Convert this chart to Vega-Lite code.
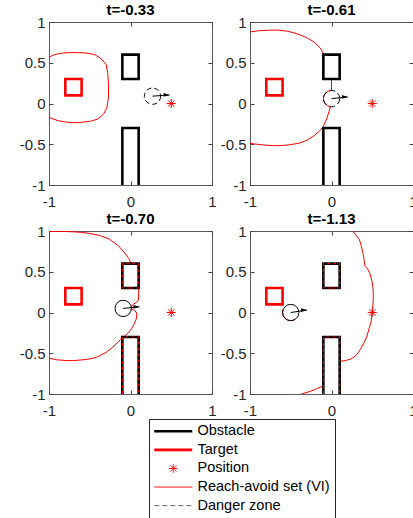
{
  "$schema": "https://vega.github.io/schema/vega-lite/v6.json",
  "background": "white",
  "padding": {"left": 18, "top": 2, "right": 0, "bottom": 0},
  "columns": 2,
  "spacing": {"row": 46, "column": 38},
  "bounds": "flush",
  "datasets": {
    "obs": [
      {"series": "Obstacle", "obj": "a", "i": 0, "x": 0, "y": 0.3},
      {"series": "Obstacle", "obj": "a", "i": 1, "x": 0.1, "y": 0.3},
      {"series": "Obstacle", "obj": "a", "i": 2, "x": 0.1, "y": 0.6},
      {"series": "Obstacle", "obj": "a", "i": 3, "x": -0.1, "y": 0.6},
      {"series": "Obstacle", "obj": "a", "i": 4, "x": -0.1, "y": 0.3},
      {"series": "Obstacle", "obj": "a", "i": 5, "x": 0, "y": 0.3},
      {"series": "Obstacle", "obj": "b", "i": 0, "x": -0.1, "y": -1},
      {"series": "Obstacle", "obj": "b", "i": 1, "x": -0.1, "y": -0.3},
      {"series": "Obstacle", "obj": "b", "i": 2, "x": 0.1, "y": -0.3},
      {"series": "Obstacle", "obj": "b", "i": 3, "x": 0.1, "y": -1}
    ],
    "target": [
      {"i": 0, "x": -0.7, "y": 0.1},
      {"i": 1, "x": -0.6, "y": 0.1},
      {"i": 2, "x": -0.6, "y": 0.3},
      {"i": 3, "x": -0.8, "y": 0.3},
      {"i": 4, "x": -0.8, "y": 0.1},
      {"i": 5, "x": -0.7, "y": 0.1}
    ],
    "pos": [{"x": 0.5, "y": 0}],
    "vehicle": [
      {"panel": 1, "x": 0.27, "y": 0.09, "tx": 0.48, "ty": 0.105},
      {"panel": 2, "x": 0.0, "y": 0.06, "tx": 0.2, "ty": 0.08},
      {"panel": 3, "x": -0.09, "y": 0.05, "tx": 0.11, "ty": 0.07},
      {"panel": 4, "x": -0.5, "y": 0.0, "tx": -0.3, "ty": 0.03}
    ],
    "curves": [
      {"panel": 1, "seg": "a", "i": 0, "x": -1, "y": 0.57},
      {"panel": 1, "seg": "a", "i": 1, "x": -0.93, "y": 0.6},
      {"panel": 1, "seg": "a", "i": 2, "x": -0.83, "y": 0.62},
      {"panel": 1, "seg": "a", "i": 3, "x": -0.7, "y": 0.626},
      {"panel": 1, "seg": "a", "i": 4, "x": -0.54, "y": 0.62},
      {"panel": 1, "seg": "a", "i": 5, "x": -0.44, "y": 0.6},
      {"panel": 1, "seg": "a", "i": 6, "x": -0.36, "y": 0.55},
      {"panel": 1, "seg": "a", "i": 7, "x": -0.3, "y": 0.48},
      {"panel": 1, "seg": "a", "i": 8, "x": -0.28, "y": 0.38},
      {"panel": 1, "seg": "a", "i": 9, "x": -0.27, "y": 0.24},
      {"panel": 1, "seg": "a", "i": 10, "x": -0.27, "y": 0.07},
      {"panel": 1, "seg": "a", "i": 11, "x": -0.29, "y": -0.05},
      {"panel": 1, "seg": "a", "i": 12, "x": -0.33, "y": -0.13},
      {"panel": 1, "seg": "a", "i": 13, "x": -0.4, "y": -0.19},
      {"panel": 1, "seg": "a", "i": 14, "x": -0.5, "y": -0.22},
      {"panel": 1, "seg": "a", "i": 15, "x": -0.66, "y": -0.236},
      {"panel": 1, "seg": "a", "i": 16, "x": -0.78, "y": -0.23},
      {"panel": 1, "seg": "a", "i": 17, "x": -0.89, "y": -0.21},
      {"panel": 1, "seg": "a", "i": 18, "x": -1, "y": -0.17},

      {"panel": 2, "seg": "a", "i": 0, "x": -1, "y": 0.878},
      {"panel": 2, "seg": "a", "i": 1, "x": -0.88, "y": 0.894},
      {"panel": 2, "seg": "a", "i": 2, "x": -0.76, "y": 0.9},
      {"panel": 2, "seg": "a", "i": 3, "x": -0.66, "y": 0.9},
      {"panel": 2, "seg": "a", "i": 4, "x": -0.56, "y": 0.89},
      {"panel": 2, "seg": "a", "i": 5, "x": -0.47, "y": 0.87},
      {"panel": 2, "seg": "a", "i": 6, "x": -0.38, "y": 0.84},
      {"panel": 2, "seg": "a", "i": 7, "x": -0.3, "y": 0.805},
      {"panel": 2, "seg": "a", "i": 8, "x": -0.24, "y": 0.77},
      {"panel": 2, "seg": "a", "i": 9, "x": -0.19, "y": 0.735},
      {"panel": 2, "seg": "a", "i": 10, "x": -0.13, "y": 0.67},
      {"panel": 2, "seg": "a", "i": 11, "x": -0.1, "y": 0.61},
      {"panel": 2, "seg": "a", "i": 12, "x": -0.1, "y": 0.3},
      {"panel": 2, "seg": "a", "i": 13, "x": 0, "y": 0.3},
      {"panel": 2, "seg": "a", "i": 14, "x": 0, "y": 0.16},
      {"panel": 2, "seg": "a", "i": 15, "x": -0.042, "y": 0.151},
      {"panel": 2, "seg": "a", "i": 16, "x": -0.077, "y": 0.124},
      {"panel": 2, "seg": "a", "i": 17, "x": -0.097, "y": 0.086},
      {"panel": 2, "seg": "a", "i": 18, "x": -0.098, "y": 0.043},
      {"panel": 2, "seg": "a", "i": 19, "x": -0.082, "y": 0.003},
      {"panel": 2, "seg": "a", "i": 20, "x": -0.05, "y": -0.027},
      {"panel": 2, "seg": "a", "i": 21, "x": -0.015, "y": -0.045},
      {"panel": 2, "seg": "a", "i": 22, "x": -0.03, "y": -0.1},
      {"panel": 2, "seg": "a", "i": 23, "x": -0.06, "y": -0.19},
      {"panel": 2, "seg": "a", "i": 24, "x": -0.1, "y": -0.28},
      {"panel": 2, "seg": "a", "i": 25, "x": -0.15, "y": -0.34},
      {"panel": 2, "seg": "a", "i": 26, "x": -0.22, "y": -0.4},
      {"panel": 2, "seg": "a", "i": 27, "x": -0.3, "y": -0.45},
      {"panel": 2, "seg": "a", "i": 28, "x": -0.39, "y": -0.485},
      {"panel": 2, "seg": "a", "i": 29, "x": -0.5, "y": -0.505},
      {"panel": 2, "seg": "a", "i": 30, "x": -0.6, "y": -0.515},
      {"panel": 2, "seg": "a", "i": 31, "x": -0.72, "y": -0.517},
      {"panel": 2, "seg": "a", "i": 32, "x": -0.85, "y": -0.507},
      {"panel": 2, "seg": "a", "i": 33, "x": -1, "y": -0.49},

      {"panel": 3, "seg": "a", "i": 0, "x": -1, "y": 0.995},
      {"panel": 3, "seg": "a", "i": 1, "x": -0.85, "y": 0.995},
      {"panel": 3, "seg": "a", "i": 2, "x": -0.7, "y": 0.99},
      {"panel": 3, "seg": "a", "i": 3, "x": -0.6, "y": 0.983},
      {"panel": 3, "seg": "a", "i": 4, "x": -0.5, "y": 0.97},
      {"panel": 3, "seg": "a", "i": 5, "x": -0.38, "y": 0.945},
      {"panel": 3, "seg": "a", "i": 6, "x": -0.26, "y": 0.9},
      {"panel": 3, "seg": "a", "i": 7, "x": -0.15, "y": 0.82},
      {"panel": 3, "seg": "a", "i": 8, "x": -0.07, "y": 0.73},
      {"panel": 3, "seg": "a", "i": 9, "x": -0.02, "y": 0.66},
      {"panel": 3, "seg": "a", "i": 10, "x": 0.01, "y": 0.6},
      {"panel": 3, "seg": "a", "i": 11, "x": 0.1, "y": 0.6},
      {"panel": 3, "seg": "a", "i": 12, "x": 0.1, "y": 0.3},
      {"panel": 3, "seg": "a", "i": 13, "x": 0.1, "y": 0.2},
      {"panel": 3, "seg": "a", "i": 14, "x": 0.095, "y": 0.15},
      {"panel": 3, "seg": "a", "i": 15, "x": 0.07, "y": 0.12},
      {"panel": 3, "seg": "a", "i": 16, "x": 0.03, "y": 0.1},
      {"panel": 3, "seg": "a", "i": 17, "x": 0.012, "y": 0.075},
      {"panel": 3, "seg": "a", "i": 18, "x": 0.012, "y": 0.045},
      {"panel": 3, "seg": "a", "i": 19, "x": 0.04, "y": 0.03},
      {"panel": 3, "seg": "a", "i": 20, "x": 0.07, "y": 0.005},
      {"panel": 3, "seg": "a", "i": 21, "x": 0.078, "y": -0.03},
      {"panel": 3, "seg": "a", "i": 22, "x": 0.07, "y": -0.08},
      {"panel": 3, "seg": "a", "i": 23, "x": 0.05, "y": -0.13},
      {"panel": 3, "seg": "a", "i": 24, "x": 0.025, "y": -0.18},
      {"panel": 3, "seg": "a", "i": 25, "x": -0.01, "y": -0.23},
      {"panel": 3, "seg": "a", "i": 26, "x": -0.06, "y": -0.28},
      {"panel": 3, "seg": "a", "i": 27, "x": -0.1, "y": -0.305},
      {"panel": 3, "seg": "a", "i": 28, "x": -0.14, "y": -0.35},
      {"panel": 3, "seg": "a", "i": 29, "x": -0.2, "y": -0.41},
      {"panel": 3, "seg": "a", "i": 30, "x": -0.3, "y": -0.49},
      {"panel": 3, "seg": "a", "i": 31, "x": -0.42, "y": -0.55},
      {"panel": 3, "seg": "a", "i": 32, "x": -0.5, "y": -0.57},
      {"panel": 3, "seg": "a", "i": 33, "x": -0.58, "y": -0.58},
      {"panel": 3, "seg": "a", "i": 34, "x": -0.7, "y": -0.59},
      {"panel": 3, "seg": "a", "i": 35, "x": -0.78, "y": -0.59},
      {"panel": 3, "seg": "a", "i": 36, "x": -0.91, "y": -0.58},
      {"panel": 3, "seg": "a", "i": 37, "x": -1, "y": -0.56},

      {"panel": 4, "seg": "a", "i": 0, "x": 0.26, "y": 1.0},
      {"panel": 4, "seg": "a", "i": 1, "x": 0.3, "y": 0.95},
      {"panel": 4, "seg": "a", "i": 2, "x": 0.34, "y": 0.9},
      {"panel": 4, "seg": "a", "i": 3, "x": 0.365, "y": 0.82},
      {"panel": 4, "seg": "a", "i": 4, "x": 0.385, "y": 0.735},
      {"panel": 4, "seg": "a", "i": 5, "x": 0.4, "y": 0.65},
      {"panel": 4, "seg": "a", "i": 6, "x": 0.41, "y": 0.57},
      {"panel": 4, "seg": "a", "i": 7, "x": 0.44, "y": 0.54},
      {"panel": 4, "seg": "a", "i": 8, "x": 0.465, "y": 0.49},
      {"panel": 4, "seg": "a", "i": 9, "x": 0.48, "y": 0.45},
      {"panel": 4, "seg": "a", "i": 10, "x": 0.5, "y": 0.37},
      {"panel": 4, "seg": "a", "i": 11, "x": 0.51, "y": 0.29},
      {"panel": 4, "seg": "a", "i": 12, "x": 0.513, "y": 0.2},
      {"panel": 4, "seg": "a", "i": 13, "x": 0.51, "y": 0.12},
      {"panel": 4, "seg": "a", "i": 14, "x": 0.5, "y": 0.0},
      {"panel": 4, "seg": "a", "i": 15, "x": 0.485, "y": -0.12},
      {"panel": 4, "seg": "a", "i": 16, "x": 0.46, "y": -0.2},
      {"panel": 4, "seg": "a", "i": 17, "x": 0.435, "y": -0.29},
      {"panel": 4, "seg": "a", "i": 18, "x": 0.4, "y": -0.37},
      {"panel": 4, "seg": "a", "i": 19, "x": 0.355, "y": -0.45},
      {"panel": 4, "seg": "a", "i": 20, "x": 0.3, "y": -0.53},
      {"panel": 4, "seg": "a", "i": 21, "x": 0.24, "y": -0.57},
      {"panel": 4, "seg": "a", "i": 22, "x": 0.17, "y": -0.59},
      {"panel": 4, "seg": "a", "i": 23, "x": 0.1, "y": -0.6},
      {"panel": 4, "seg": "a", "i": 24, "x": 0.1, "y": -0.3},
      {"panel": 4, "seg": "a", "i": 25, "x": -0.1, "y": -0.3},
      {"panel": 4, "seg": "a", "i": 26, "x": -0.1, "y": -0.9},
      {"panel": 4, "seg": "a", "i": 27, "x": -0.17, "y": -0.93},
      {"panel": 4, "seg": "a", "i": 28, "x": -0.24, "y": -0.96},
      {"panel": 4, "seg": "a", "i": 29, "x": -0.3, "y": -0.98},
      {"panel": 4, "seg": "a", "i": 30, "x": -0.37, "y": -1.0},
      {"panel": 4, "seg": "b", "i": 0, "x": -0.594, "y": 0.034},
      {"panel": 4, "seg": "b", "i": 1, "x": -0.6, "y": 0.0},
      {"panel": 4, "seg": "b", "i": 2, "x": -0.594, "y": -0.034},
      {"panel": 4, "seg": "b", "i": 3, "x": -0.577, "y": -0.064},
      {"panel": 4, "seg": "b", "i": 4, "x": -0.55, "y": -0.087},
      {"panel": 4, "seg": "b", "i": 5, "x": -0.517, "y": -0.098},
      {"panel": 4, "seg": "b", "i": 6, "x": -0.483, "y": -0.098},
      {"panel": 4, "seg": "b", "i": 7, "x": -0.45, "y": -0.087}
    ]
  },
  "concat": [
    {
      "title": "t=-0.33",
      "width": 163, "height": 163,
      "resolve": {"axis": {"x": "independent", "y": "independent"}},
      "layer": [
        {"data": {"name": "curves"}, "transform": [{"filter": "datum.panel == 1"}],
         "mark": {"type": "line", "color": "#ff0000", "strokeWidth": 1, "clip": true},
         "encoding": {
           "x": {"field": "x", "type": "quantitative", "scale": {"domain": [-1, 1], "nice": false}, "axis": null},
           "y": {"field": "y", "type": "quantitative", "scale": {"domain": [-1, 1], "nice": false}, "axis": null},
           "detail": {"field": "seg"},
           "order": {"field": "i", "type": "quantitative"}}},
        {"data": {"name": "obs"},
         "mark": {"type": "line", "strokeWidth": 2.6, "strokeJoin": "miter", "clip": true},
         "encoding": {
           "x": {"field": "x", "type": "quantitative", "scale": {"domain": [-1, 1], "nice": false},
                 "axis": {"orient": "bottom", "values": [-1, 0, 1], "labelExpr": "'' + datum.value", "labelPadding": 13, "title": null}},
           "y": {"field": "y", "type": "quantitative", "scale": {"domain": [-1, 1], "nice": false},
                 "axis": {"orient": "left", "values": [-1, -0.5, 0, 0.5, 1], "labelExpr": "'' + datum.value", "labelPadding": 8, "title": null}},
           "detail": {"field": "obj"},
           "order": {"field": "i", "type": "quantitative"},
           "color": {"field": "series", "type": "nominal",
             "scale": {"domain": ["Obstacle", "Target", "Position", "Reach-avoid set (VI)", "Danger zone"],
                       "range": ["black", "#ff0000", "#ff0000", "#ff0000", "#666666"]},
             "legend": {
               "orient": "none", "legendX": 100, "legendY": 397, "direction": "vertical",
               "title": null, "padding": 5, "strokeColor": "#262626", "fillColor": "white",
               "labelFont": "Liberation Sans", "labelFontSize": 14.5, "labelColor": "black",
               "symbolSize": 361, "symbolOffset": 12, "labelOffset": 17, "rowPadding": 3.6,
               "symbolStrokeWidth": 1,
               "encode": {"symbols": {"update": {
                 "shape": {"signal": "datum.value === 'Position' ? 'M0,-0.45L0,0.45M-0.45,0L0.45,0M-0.32,-0.32L0.32,0.32M-0.32,0.32L0.32,-0.32' : 'M-2,0L2,0'"},
                 "strokeWidth": {"signal": "datum.value === 'Obstacle' || datum.value === 'Target' ? 2.6 : 1"},
                 "strokeDash": {"signal": "datum.value === 'Danger zone' ? [5, 3] : [1, 0]"},
                 "fill": {"value": "transparent"}
               }}}
             }}}},
        {"data": {"name": "target"},
         "mark": {"type": "line", "color": "#ff0000", "strokeWidth": 2.6, "strokeJoin": "miter"},
         "encoding": {
           "x": {"field": "x", "type": "quantitative", "scale": {"domain": [-1, 1], "nice": false},
                 "axis": {"orient": "top", "values": [-1, 0, 1], "labels": false, "title": null}},
           "y": {"field": "y", "type": "quantitative", "scale": {"domain": [-1, 1], "nice": false},
                 "axis": {"orient": "right", "values": [-1, -0.5, 0, 0.5, 1], "labels": false, "title": null}},
           "order": {"field": "i", "type": "quantitative"}}},
        {"data": {"name": "vehicle"}, "transform": [{"filter": "datum.panel == 1"}],
         "mark": {"type": "point", "shape": "circle", "size": 266, "filled": false, "color": "black", "strokeWidth": 1, "strokeDash": [5, 3], "opacity": 1},
         "encoding": {
           "x": {"field": "x", "type": "quantitative", "axis": null},
           "y": {"field": "y", "type": "quantitative", "axis": null}}},
        {"data": {"name": "vehicle"}, "transform": [{"filter": "datum.panel == 1"}],
         "mark": {"type": "rule", "color": "black", "strokeWidth": 1},
         "encoding": {
           "x": {"field": "x", "type": "quantitative", "axis": null},
           "y": {"field": "y", "type": "quantitative", "axis": null},
           "x2": {"field": "tx"}, "y2": {"field": "ty"}}},
        {"data": {"name": "vehicle"}, "transform": [{"filter": "datum.panel == 1"}],
         "mark": {"type": "point", "shape": "M0,0L-1.6,-0.5L-1.6,0.5Z", "size": 56, "filled": true, "color": "black", "opacity": 1},
         "encoding": {
           "x": {"field": "tx", "type": "quantitative", "axis": null},
           "y": {"field": "ty", "type": "quantitative", "axis": null}}},
        {"data": {"name": "pos"},
         "mark": {"type": "point", "shape": "M0,-1L0,1M-1,0L1,0M-0.7,-0.7L0.7,0.7M-0.7,0.7L0.7,-0.7", "size": 81, "filled": false, "color": "#ff0000", "strokeWidth": 1, "opacity": 1},
         "encoding": {
           "x": {"field": "x", "type": "quantitative", "axis": null},
           "y": {"field": "y", "type": "quantitative", "axis": null}}}
      ]
    },
    {
      "title": "t=-0.61",
      "width": 163, "height": 163,
      "resolve": {"axis": {"x": "independent", "y": "independent"}},
      "layer": [
        {"data": {"name": "curves"}, "transform": [{"filter": "datum.panel == 2"}],
         "mark": {"type": "line", "color": "#ff0000", "strokeWidth": 1, "clip": true},
         "encoding": {
           "x": {"field": "x", "type": "quantitative", "scale": {"domain": [-1, 1], "nice": false}, "axis": null},
           "y": {"field": "y", "type": "quantitative", "scale": {"domain": [-1, 1], "nice": false}, "axis": null},
           "detail": {"field": "seg"},
           "order": {"field": "i", "type": "quantitative"}}},
        {"data": {"name": "obs"},
         "mark": {"type": "line", "color": "black", "strokeWidth": 2.6, "strokeJoin": "miter", "clip": true},
         "encoding": {
           "x": {"field": "x", "type": "quantitative", "scale": {"domain": [-1, 1], "nice": false},
                 "axis": {"orient": "bottom", "values": [-1, 0, 1], "labelExpr": "'' + datum.value", "labelPadding": 13, "title": null}},
           "y": {"field": "y", "type": "quantitative", "scale": {"domain": [-1, 1], "nice": false},
                 "axis": {"orient": "left", "values": [-1, -0.5, 0, 0.5, 1], "labelExpr": "'' + datum.value", "labelPadding": 8, "title": null}},
           "detail": {"field": "obj"},
           "order": {"field": "i", "type": "quantitative"}}},
        {"data": {"name": "target"},
         "mark": {"type": "line", "color": "#ff0000", "strokeWidth": 2.6, "strokeJoin": "miter"},
         "encoding": {
           "x": {"field": "x", "type": "quantitative", "scale": {"domain": [-1, 1], "nice": false},
                 "axis": {"orient": "top", "values": [-1, 0, 1], "labels": false, "title": null}},
           "y": {"field": "y", "type": "quantitative", "scale": {"domain": [-1, 1], "nice": false},
                 "axis": {"orient": "right", "values": [-1, -0.5, 0, 0.5, 1], "labels": false, "title": null}},
           "order": {"field": "i", "type": "quantitative"}}},
        {"data": {"name": "vehicle"}, "transform": [{"filter": "datum.panel == 2"}],
         "mark": {"type": "point", "shape": "circle", "size": 266, "filled": false, "color": "black", "strokeWidth": 1, "strokeDash": [6, 3], "opacity": 1},
         "encoding": {
           "x": {"field": "x", "type": "quantitative", "axis": null},
           "y": {"field": "y", "type": "quantitative", "axis": null}}},
        {"data": {"name": "vehicle"}, "transform": [{"filter": "datum.panel == 2"}],
         "mark": {"type": "rule", "color": "black", "strokeWidth": 1},
         "encoding": {
           "x": {"field": "x", "type": "quantitative", "axis": null},
           "y": {"field": "y", "type": "quantitative", "axis": null},
           "x2": {"field": "tx"}, "y2": {"field": "ty"}}},
        {"data": {"name": "vehicle"}, "transform": [{"filter": "datum.panel == 2"}],
         "mark": {"type": "point", "shape": "M0,0L-1.6,-0.5L-1.6,0.5Z", "size": 56, "filled": true, "color": "black", "opacity": 1},
         "encoding": {
           "x": {"field": "tx", "type": "quantitative", "axis": null},
           "y": {"field": "ty", "type": "quantitative", "axis": null}}},
        {"data": {"name": "pos"},
         "mark": {"type": "point", "shape": "M0,-1L0,1M-1,0L1,0M-0.7,-0.7L0.7,0.7M-0.7,0.7L0.7,-0.7", "size": 81, "filled": false, "color": "#ff0000", "strokeWidth": 1, "opacity": 1},
         "encoding": {
           "x": {"field": "x", "type": "quantitative", "axis": null},
           "y": {"field": "y", "type": "quantitative", "axis": null}}}
      ]
    },
    {
      "title": "t=-0.70",
      "width": 163, "height": 163,
      "resolve": {"axis": {"x": "independent", "y": "independent"}},
      "layer": [
        {"data": {"name": "curves"}, "transform": [{"filter": "datum.panel == 3"}],
         "mark": {"type": "line", "color": "#ff0000", "strokeWidth": 1, "clip": true},
         "encoding": {
           "x": {"field": "x", "type": "quantitative", "scale": {"domain": [-1, 1], "nice": false}, "axis": null},
           "y": {"field": "y", "type": "quantitative", "scale": {"domain": [-1, 1], "nice": false}, "axis": null},
           "detail": {"field": "seg"},
           "order": {"field": "i", "type": "quantitative"}}},
        {"data": {"name": "obs"},
         "mark": {"type": "line", "color": "black", "strokeWidth": 2.6, "strokeJoin": "miter", "clip": true},
         "encoding": {
           "x": {"field": "x", "type": "quantitative", "scale": {"domain": [-1, 1], "nice": false},
                 "axis": {"orient": "bottom", "values": [-1, 0, 1], "labelExpr": "'' + datum.value", "labelPadding": 13, "title": null}},
           "y": {"field": "y", "type": "quantitative", "scale": {"domain": [-1, 1], "nice": false},
                 "axis": {"orient": "left", "values": [-1, -0.5, 0, 0.5, 1], "labelExpr": "'' + datum.value", "labelPadding": 8, "title": null}},
           "detail": {"field": "obj"},
           "order": {"field": "i", "type": "quantitative"}}},
        {"data": {"name": "obs"},
         "mark": {"type": "line", "color": "#e00000", "strokeWidth": 1.1, "strokeDash": [3, 3], "clip": true},
         "encoding": {
           "x": {"field": "x", "type": "quantitative", "axis": null},
           "y": {"field": "y", "type": "quantitative", "axis": null},
           "detail": {"field": "obj"},
           "order": {"field": "i", "type": "quantitative"}}},
        {"data": {"name": "target"},
         "mark": {"type": "line", "color": "#ff0000", "strokeWidth": 2.6, "strokeJoin": "miter"},
         "encoding": {
           "x": {"field": "x", "type": "quantitative", "scale": {"domain": [-1, 1], "nice": false},
                 "axis": {"orient": "top", "values": [-1, 0, 1], "labels": false, "title": null}},
           "y": {"field": "y", "type": "quantitative", "scale": {"domain": [-1, 1], "nice": false},
                 "axis": {"orient": "right", "values": [-1, -0.5, 0, 0.5, 1], "labels": false, "title": null}},
           "order": {"field": "i", "type": "quantitative"}}},
        {"data": {"name": "vehicle"}, "transform": [{"filter": "datum.panel == 3"}],
         "mark": {"type": "point", "shape": "circle", "size": 266, "filled": false, "color": "black", "strokeWidth": 1, "opacity": 1},
         "encoding": {
           "x": {"field": "x", "type": "quantitative", "axis": null},
           "y": {"field": "y", "type": "quantitative", "axis": null}}},
        {"data": {"name": "vehicle"}, "transform": [{"filter": "datum.panel == 3"}],
         "mark": {"type": "rule", "color": "black", "strokeWidth": 1},
         "encoding": {
           "x": {"field": "x", "type": "quantitative", "axis": null},
           "y": {"field": "y", "type": "quantitative", "axis": null},
           "x2": {"field": "tx"}, "y2": {"field": "ty"}}},
        {"data": {"name": "vehicle"}, "transform": [{"filter": "datum.panel == 3"}],
         "mark": {"type": "point", "shape": "M0,0L-1.6,-0.5L-1.6,0.5Z", "size": 56, "filled": true, "color": "black", "opacity": 1},
         "encoding": {
           "x": {"field": "tx", "type": "quantitative", "axis": null},
           "y": {"field": "ty", "type": "quantitative", "axis": null}}},
        {"data": {"name": "pos"},
         "mark": {"type": "point", "shape": "M0,-1L0,1M-1,0L1,0M-0.7,-0.7L0.7,0.7M-0.7,0.7L0.7,-0.7", "size": 81, "filled": false, "color": "#ff0000", "strokeWidth": 1, "opacity": 1},
         "encoding": {
           "x": {"field": "x", "type": "quantitative", "axis": null},
           "y": {"field": "y", "type": "quantitative", "axis": null}}}
      ]
    },
    {
      "title": "t=-1.13",
      "width": 163, "height": 163,
      "resolve": {"axis": {"x": "independent", "y": "independent"}},
      "layer": [
        {"data": {"name": "curves"}, "transform": [{"filter": "datum.panel == 4"}],
         "mark": {"type": "line", "color": "#ff0000", "strokeWidth": 1, "clip": true},
         "encoding": {
           "x": {"field": "x", "type": "quantitative", "scale": {"domain": [-1, 1], "nice": false}, "axis": null},
           "y": {"field": "y", "type": "quantitative", "scale": {"domain": [-1, 1], "nice": false}, "axis": null},
           "detail": {"field": "seg"},
           "order": {"field": "i", "type": "quantitative"}}},
        {"data": {"name": "obs"},
         "mark": {"type": "line", "color": "black", "strokeWidth": 2.6, "strokeJoin": "miter", "clip": true},
         "encoding": {
           "x": {"field": "x", "type": "quantitative", "scale": {"domain": [-1, 1], "nice": false},
                 "axis": {"orient": "bottom", "values": [-1, 0, 1], "labelExpr": "'' + datum.value", "labelPadding": 13, "title": null}},
           "y": {"field": "y", "type": "quantitative", "scale": {"domain": [-1, 1], "nice": false},
                 "axis": {"orient": "left", "values": [-1, -0.5, 0, 0.5, 1], "labelExpr": "'' + datum.value", "labelPadding": 8, "title": null}},
           "detail": {"field": "obj"},
           "order": {"field": "i", "type": "quantitative"}}},
        {"data": {"name": "obs"},
         "mark": {"type": "line", "color": "#e00000", "strokeWidth": 1.1, "strokeDash": [3, 3], "clip": true},
         "encoding": {
           "x": {"field": "x", "type": "quantitative", "axis": null},
           "y": {"field": "y", "type": "quantitative", "axis": null},
           "detail": {"field": "obj"},
           "order": {"field": "i", "type": "quantitative"}}},
        {"data": {"name": "target"},
         "mark": {"type": "line", "color": "#ff0000", "strokeWidth": 2.6, "strokeJoin": "miter"},
         "encoding": {
           "x": {"field": "x", "type": "quantitative", "scale": {"domain": [-1, 1], "nice": false},
                 "axis": {"orient": "top", "values": [-1, 0, 1], "labels": false, "title": null}},
           "y": {"field": "y", "type": "quantitative", "scale": {"domain": [-1, 1], "nice": false},
                 "axis": {"orient": "right", "values": [-1, -0.5, 0, 0.5, 1], "labels": false, "title": null}},
           "order": {"field": "i", "type": "quantitative"}}},
        {"data": {"name": "vehicle"}, "transform": [{"filter": "datum.panel == 4"}],
         "mark": {"type": "point", "shape": "circle", "size": 266, "filled": false, "color": "black", "strokeWidth": 1, "opacity": 1},
         "encoding": {
           "x": {"field": "x", "type": "quantitative", "axis": null},
           "y": {"field": "y", "type": "quantitative", "axis": null}}},
        {"data": {"name": "vehicle"}, "transform": [{"filter": "datum.panel == 4"}],
         "mark": {"type": "rule", "color": "black", "strokeWidth": 1},
         "encoding": {
           "x": {"field": "x", "type": "quantitative", "axis": null},
           "y": {"field": "y", "type": "quantitative", "axis": null},
           "x2": {"field": "tx"}, "y2": {"field": "ty"}}},
        {"data": {"name": "vehicle"}, "transform": [{"filter": "datum.panel == 4"}],
         "mark": {"type": "point", "shape": "M0,0L-1.6,-0.5L-1.6,0.5Z", "size": 56, "filled": true, "color": "black", "opacity": 1},
         "encoding": {
           "x": {"field": "tx", "type": "quantitative", "axis": null},
           "y": {"field": "ty", "type": "quantitative", "axis": null}}},
        {"data": {"name": "pos"},
         "mark": {"type": "point", "shape": "M0,-1L0,1M-1,0L1,0M-0.7,-0.7L0.7,0.7M-0.7,0.7L0.7,-0.7", "size": 81, "filled": false, "color": "#ff0000", "strokeWidth": 1, "opacity": 1},
         "encoding": {
           "x": {"field": "x", "type": "quantitative", "axis": null},
           "y": {"field": "y", "type": "quantitative", "axis": null}}}
      ]
    }
  ],
  "config": {
    "font": "Liberation Sans",
    "view": {"stroke": "#5a5a5a", "strokeWidth": 1},
    "title": {"font": "Liberation Sans", "fontSize": 15, "fontWeight": "bold", "color": "black", "offset": -3, "frame": "group", "anchor": "middle"},
    "axis": {
      "domain": false, "grid": false, "ticks": true, "tickSize": -4, "tickColor": "#444444", "tickWidth": 1,
      "labelFont": "Liberation Sans", "labelFontSize": 15, "labelColor": "#262626",
      "labelFlush": false, "labelBound": false, "labelOverlap": false
    }
  }
}
